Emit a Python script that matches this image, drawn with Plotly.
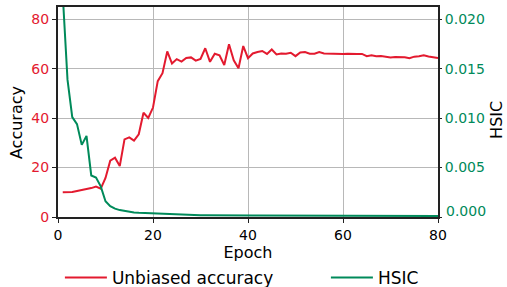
import plotly.graph_objects as go

epochs = list(range(1, 81))

unbiased_accuracy = [
    10.0, 10.0, 10.1, 10.5, 10.8, 11.2, 11.7, 12.3, 11.5, 15.8,
    22.8, 24.0, 20.6, 31.4, 32.2, 30.9, 33.5, 42.2, 40.1, 44.3,
    55.0, 58.2, 67.0, 62.1, 63.9, 62.9, 64.4, 64.6, 63.3, 64.0,
    68.3, 62.8, 66.1, 65.4, 61.5, 69.9, 63.4, 60.2, 69.2, 64.3,
    66.2, 66.8, 67.2, 66.0, 67.8, 65.8, 66.2, 66.1, 66.5, 65.1,
    66.6, 66.8, 66.1, 66.1, 66.8, 66.2, 66.1, 66.1, 66.0, 66.0,
    66.1, 66.2, 66.0, 66.0, 65.1, 65.5, 65.1, 65.2, 64.9, 64.6,
    64.8, 64.8, 64.7, 64.3, 64.9, 65.1, 65.5, 65.0, 64.6, 64.3,
]

hsic = [
    0.0225, 0.0139, 0.0101, 0.0094, 0.0073, 0.0082, 0.0042, 0.0040, 0.0031, 0.0016,
    0.0011, 0.00085, 0.0007, 0.0006, 0.00052, 0.00046, 0.00042, 0.0004, 0.00036, 0.00034,
    0.0003, 0.00027, 0.00024, 0.00023, 0.00022, 0.00021, 0.0002, 0.00019, 0.00018, 0.00017,
    0.00017, 0.00016, 0.00016, 0.00016, 0.00015, 0.00015, 0.00015, 0.00015, 0.00014, 0.00014,
    0.00014, 0.00014, 0.00014, 0.00013, 0.00013, 0.00013, 0.00013, 0.00013, 0.00013, 0.00012,
    0.00012, 0.00012, 0.00012, 0.00012, 0.00012, 0.00012, 0.00011, 0.00011, 0.00011, 0.00011,
    0.00011, 0.00011, 0.00011, 0.00011, 0.00011, 0.0001, 0.0001, 0.0001, 0.0001, 0.0001,
    0.0001, 0.0001, 0.0001, 0.0001, 0.0001, 0.0001, 0.0001, 0.0001, 0.0001, 0.0001,
]

x_ticks = [0, 20, 40, 60, 80]
acc_ticks = [0, 20, 40, 60, 80]
hsic_ticks = [0.0, 0.005, 0.010, 0.015, 0.020]
hsic_tick_labels = ["", "0.005", "0.010", "0.015", "0.020"]

RED = "#e31a2f"
GREEN = "#008a5a"
FONT = "DejaVu Sans"
SPINE = "#222222"
GRID = "#b8b8b8"

fig = go.Figure()
fig.add_trace(go.Scatter(x=epochs, y=unbiased_accuracy, mode="lines",
                         name="Unbiased accuracy", line=dict(color=RED, width=2),
                         yaxis="y", legend="legend"))
fig.add_trace(go.Scatter(x=epochs, y=hsic, mode="lines", name="HSIC",
                         line=dict(color=GREEN, width=2), yaxis="y2",
                         legend="legend2"))

legend_common = dict(orientation="h", xanchor="left", y=-0.29, yanchor="middle",
                     font=dict(size=17, color="black"), itemwidth=42,
                     bgcolor="rgba(0,0,0,0)")

fig.update_layout(
    width=507, height=287,
    margin=dict(l=58, r=69, t=7, b=70, autoexpand=False),
    plot_bgcolor="white", paper_bgcolor="white",
    font=dict(family=FONT, size=14, color="black"),
    xaxis=dict(range=[0, 80], tickvals=x_ticks, showgrid=True, gridcolor=GRID,
               gridwidth=1, zeroline=False, showline=True, linecolor=SPINE,
               linewidth=2, mirror=True, ticks="outside", ticklen=4,
               tickcolor=SPINE, tickfont=dict(size=14, color="black"),
               title=dict(text="Epoch", font=dict(size=16), standoff=2)),
    yaxis=dict(range=[0, 85], tickvals=acc_ticks, showgrid=True, gridcolor=GRID,
               gridwidth=1, zeroline=False, showline=True, linecolor=SPINE,
               linewidth=2, mirror=True, ticks="outside", ticklen=4,
               tickcolor=SPINE, tickfont=dict(size=14, color=RED)),
    yaxis2=dict(range=[0, 0.02125], overlaying="y", side="right",
                tickvals=hsic_ticks, ticktext=hsic_tick_labels, showgrid=False,
                zeroline=False, showline=False, ticks="outside", ticklen=3,
                tickcolor=SPINE, tickfont=dict(size=14, color=GREEN)),
    showlegend=True,
    legend=dict(x=0.005, **legend_common),
    legend2=dict(x=0.705, **legend_common),
    annotations=[
        dict(text="Accuracy", xref="paper", yref="paper", x=-0.109, y=0.45,
             xanchor="center", yanchor="middle",
             textangle=-90, showarrow=False, font=dict(size=16, color="black")),
        dict(text="HSIC", xref="paper", yref="paper", x=1.155, y=0.462,
             xanchor="center", yanchor="middle",
             textangle=-90, showarrow=False, font=dict(size=16, color="black")),
        dict(text="0.000", xref="paper", yref="paper", x=1.016, xanchor="left",
             y=0.0286, yanchor="middle", showarrow=False,
             font=dict(size=14, color=GREEN)),
    ],
)

fig.write_html("out.html", config={"displayModeBar": False},
               post_script="document.body.style.margin='0';document.body.style.padding='0';")
